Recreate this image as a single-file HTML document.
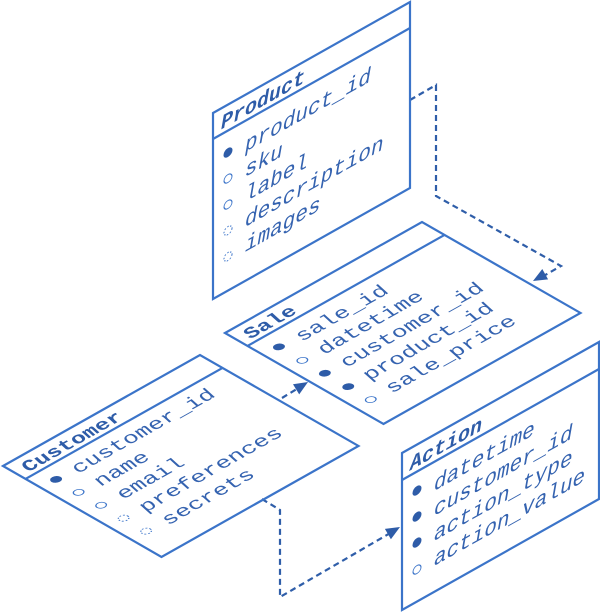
<!DOCTYPE html>
<html><head><meta charset="utf-8"><style>
html,body{margin:0;padding:0;background:#fff;}
svg{display:block;}
.b{fill:none;stroke:#3b74c9;stroke-width:2.2;}
.t{font-family:"Liberation Mono",monospace;font-style:italic;font-size:21px;fill:#3563b0;}
.h{font-family:"Liberation Mono",monospace;font-style:italic;font-weight:bold;font-size:20px;fill:#2e5ca8;}
.f{fill:#2e5ca8;}
.o{fill:none;stroke:#3b74c9;stroke-width:1;}
.d{fill:none;stroke:#3b74c9;stroke-width:1;stroke-dasharray:1.5,1.5;}
.c{fill:none;stroke:#2f5ea9;stroke-width:2.2;stroke-dasharray:6,4;}
</style></head><body>
<svg width="600" height="612" viewBox="0 0 600 612" xmlns="http://www.w3.org/2000/svg">
<polyline class="c" stroke-dasharray="4,3" points="410,100 436,85 436,196 561,266 540,278"/>
<polygon class="f" points="533,281 548.1,279.4 542.3,269"/>
<polyline class="c" points="282,398 300,387"/>
<polygon class="f" points="308,382 299.2,394.4 293,384.2"/>
<polyline class="c" points="262,499 280,510 280,597 392,532"/>
<polygon class="f" points="400,527 390.9,539.3 384.9,528.9"/>

<g transform="matrix(1,-0.5635,0,1,213,113)">
<rect class="b" vector-effect="non-scaling-stroke" x="0" y="0" width="197" height="186" fill="#fff"/>
<line class="b" vector-effect="non-scaling-stroke" x1="0" y1="26" x2="197" y2="26"/>
<text class="h" x="8" y="21">Product</text>
<text class="t" x="32" y="57">product_id</text>
<text class="t" x="32" y="82">sku</text>
<text class="t" x="32" y="107">label</text>
<text class="t" x="32" y="132">description</text>
<text class="t" x="32" y="157">images</text>
<circle class="f" cx="15" cy="48" r="4.5"/>
<circle class="o" cx="15" cy="74" r="4"/>
<circle class="o" cx="15" cy="100" r="4"/>
<circle class="d" cx="15" cy="126" r="4"/>
<circle class="d" cx="15" cy="152" r="4"/>
</g>

<g transform="matrix(1,-0.5635,0,1,402,453)">
<rect class="b" vector-effect="non-scaling-stroke" x="0" y="0" width="197" height="157" fill="#fff"/>
<line class="b" vector-effect="non-scaling-stroke" x1="0" y1="27" x2="197" y2="27"/>
<text class="h" x="8" y="22">Action</text>
<text class="t" x="32" y="56">datetime</text>
<text class="t" x="32" y="81">customer_id</text>
<text class="t" x="32" y="106">action_type</text>
<text class="t" x="32" y="131">action_value</text>
<circle class="f" cx="15" cy="46" r="4.5"/>
<circle class="f" cx="15" cy="72" r="4.5"/>
<circle class="f" cx="15" cy="98" r="4.5"/>
<circle class="o" cx="15" cy="125" r="4"/>
</g>

<g transform="matrix(1,-0.5635,0.866,0.497,225,333)">
<rect class="b" vector-effect="non-scaling-stroke" x="0" y="0" width="197" height="183" fill="#fff"/>
<line class="b" vector-effect="non-scaling-stroke" x1="0" y1="26" x2="197" y2="26"/>
<text class="h" x="8" y="21">Sale</text>
<text class="t" x="32" y="53">sale_id</text>
<text class="t" x="32" y="79">datetime</text>
<text class="t" x="32" y="105">customer_id</text>
<text class="t" x="32" y="131">product_id</text>
<text class="t" x="32" y="157">sale_price</text>
<circle class="f" cx="15" cy="45" r="4.5"/>
<circle class="o" cx="15" cy="72" r="4"/>
<circle class="f" cx="15" cy="98" r="4.5"/>
<circle class="f" cx="15" cy="125" r="4.5"/>
<circle class="o" cx="15" cy="151" r="4"/>
</g>

<g transform="matrix(1,-0.5635,0.866,0.497,3,466)">
<rect class="b" vector-effect="non-scaling-stroke" x="0" y="0" width="197" height="183" fill="#fff"/>
<line class="b" vector-effect="non-scaling-stroke" x1="0" y1="26" x2="197" y2="26"/>
<text class="h" x="8" y="21">Customer</text>
<text class="t" x="32" y="51">customer_id</text>
<text class="t" x="32" y="77">name</text>
<text class="t" x="32" y="103">email</text>
<text class="t" x="32" y="129">preferences</text>
<text class="t" x="32" y="155">secrets</text>
<circle class="f" cx="15" cy="44" r="4.5"/>
<circle class="o" cx="15" cy="70" r="4"/>
<circle class="o" cx="15" cy="96" r="4"/>
<circle class="d" cx="15" cy="122" r="4"/>
<circle class="d" cx="15" cy="148" r="4"/>
</g>
</svg>
</body></html>
